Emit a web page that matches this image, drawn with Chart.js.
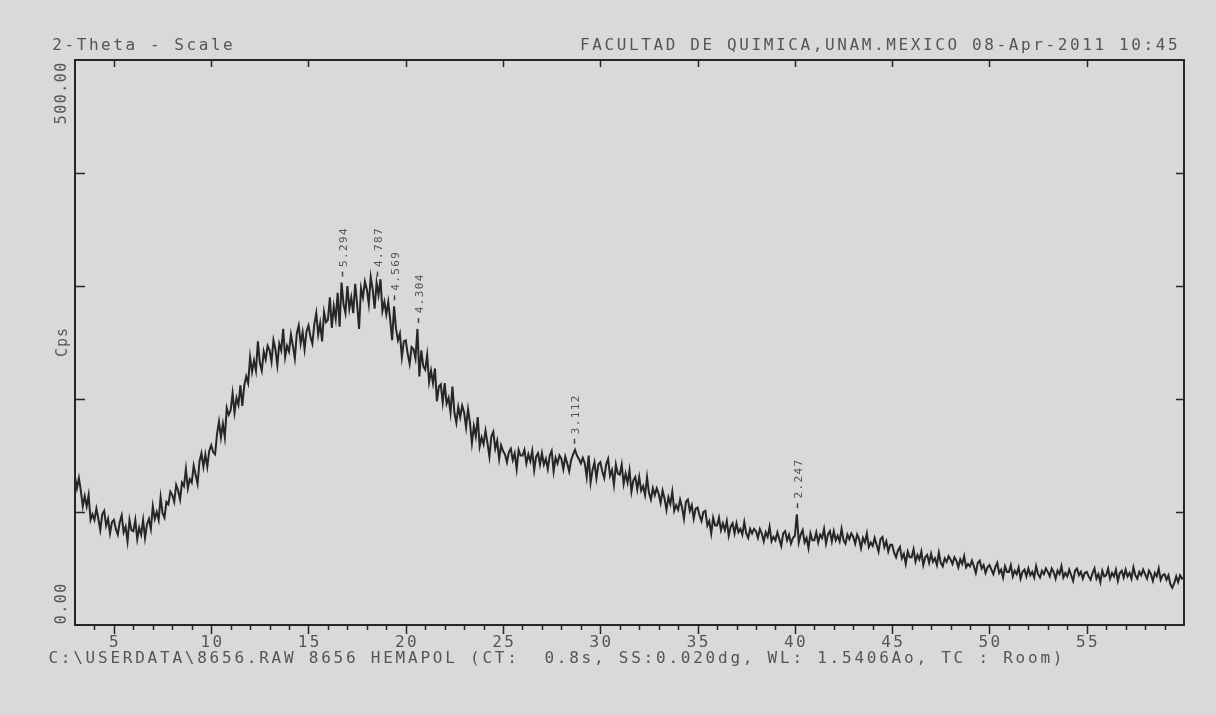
<!DOCTYPE html>
<html>
<head>
<meta charset="utf-8">
<title>2-Theta - Scale</title>
<script src="https://cdn.jsdelivr.net/npm/chart.js@4.4.1/dist/chart.umd.min.js"></script>
<style>
  html, body { margin: 0; padding: 0; background: #d9d9d9; }
  #wrap { width: 1216px; height: 715px; }
</style>
</head>
<body>
<div id="wrap"><canvas id="xrd" width="1216" height="715"></canvas></div>
<script>
/* XRD pattern, 2-Theta scan, redrawn with Chart.js */

// --- data
const twoThetaStart = 3.0;   // first step, degrees
const twoThetaStep = 0.1;    // step width, degrees
const cps = [
  131,121,130,119,105,114,105,115,93,98,    // 3
  93,103,94,84,98,101,88,94,81,91,          // 4
  93,85,80,91,97,82,87,74,93,84,            // 5
  83,93,76,86,80,93,77,89,94,85,            // 6
  105,94,100,93,113,99,95,109,107,118,      // 7
  115,109,124,119,111,126,123,138,121,129,  // 8
  126,141,133,125,145,152,140,151,140,154,  // 9
  159,153,151,169,180,166,178,166,192,186,  // 10
  190,205,188,201,195,212,194,212,220,214,  // 11
  237,224,234,225,251,232,225,242,235,247,  // 12
  243,233,252,244,230,249,243,262,237,247,  // 13
  242,257,247,236,258,265,249,259,244,260,  // 14
  265,255,249,266,276,257,267,251,277,268,  // 15
  270,290,263,282,271,294,264,303,284,276,  // 16
  300,280,290,276,302,284,262,298,290,304,  // 17
  297,284,308,297,280,303,292,306,278,286,  // 18
  275,286,270,252,282,262,252,258,237,251,  // 19
  252,240,231,246,244,236,262,220,243,229,  // 20
  226,239,215,225,214,227,198,211,213,197,  // 21
  214,196,201,188,211,188,179,193,184,194,  // 22
  188,175,191,179,161,176,167,184,158,166,  // 23
  160,172,161,149,167,171,156,163,147,159,  // 24
  154,151,144,153,156,146,152,138,155,150,  // 25
  150,155,143,151,145,154,137,149,152,142,  // 26
  152,142,147,138,150,154,136,148,143,150,  // 27
  147,138,149,143,136,146,151,155,150,147,  // 28
  143,148,143,131,150,126,137,144,130,142,  // 29
  144,136,130,142,147,132,137,124,142,134,  // 30
  133,142,125,134,126,137,118,128,131,120,  // 31
  131,119,123,115,131,117,111,121,115,121,  // 32
  116,108,119,112,102,113,107,118,101,106,  // 33
  102,111,104,94,109,111,101,106,94,103,    // 34
  104,97,92,100,101,88,92,81,95,88,         // 35
  88,95,84,90,84,92,79,87,90,81,            // 36
  90,82,85,80,91,81,77,85,81,85,            // 37
  83,77,85,81,74,82,78,87,74,78,            // 38
  75,82,76,70,81,83,75,80,72,77,            // 39
  79,98,73,80,84,73,77,68,81,75,            // 40
  75,82,73,80,77,85,72,80,83,74,            // 41
  83,75,79,74,85,75,72,80,76,81,            // 42
  78,72,80,76,68,77,73,81,69,73,            // 43
  70,77,71,65,76,78,69,74,65,71,            // 44
  71,64,60,66,69,59,63,54,65,60,            // 45
  60,67,56,62,58,65,53,60,62,55,            // 46
  63,56,59,53,64,55,52,59,56,61,            // 47
  58,54,60,57,51,58,54,61,51,54,            // 48
  52,57,52,46,55,57,50,53,46,51,            // 49
  53,49,45,51,55,46,49,42,52,47,            // 50
  47,53,43,48,45,51,41,47,49,43,            // 51
  50,44,47,42,52,45,42,48,45,50,            // 52
  47,43,50,47,41,48,45,52,42,46,            // 53
  43,49,44,39,48,50,44,47,41,46,            // 54
  47,43,40,46,50,41,45,38,48,43,            // 55
  44,50,41,46,43,49,39,46,48,42,            // 56
  49,43,46,41,51,44,41,47,44,49,            // 57
  45,41,48,45,39,46,43,50,40,44,            // 58
  45,40,44,36,33,37,43,38,44,41,            // 59
  42                                        // 60
];

// peak markers: position (2-Theta) and d-spacing label
const peakTwoTheta = [16.73, 18.52, 19.41, 20.62, 28.66, 40.10];
const peakD = ['5.294', '4.787', '4.569', '4.304', '3.112', '2.247'];

// axis ticks
const xTickLabels = [5, 10, 15, 20, 25, 30, 35, 40, 45, 50, 55];
const yTickValues = [100, 200, 300, 400];
const yEndLabels = ['0.00', '500.00'];

// texts
const titleLeft = '2-Theta - Scale';
const titleRight = 'FACULTAD DE QUIMICA,UNAM.MEXICO 08-Apr-2011 10:45';
const footer = 'C:\\USERDATA\\8656.RAW 8656 HEMAPOL (CT:  0.8s, SS:0.020dg, WL: 1.5406Ao, TC : Room)';
const yTitle = 'Cps';

const INK = '#262626';
const TEXT = '#555555';
const MONO = '"DejaVu Sans Mono", "Liberation Mono", monospace';

// draw text char by char at a fixed pitch (the plotter font is very wide)
function spaced(ctx, text, x, y, pitch, align) {
  const w = pitch * text.length;
  const x0 = align === 'right' ? x - w : align === 'center' ? x - w / 2 : x;
  ctx.textAlign = 'center';
  for (let i = 0; i < text.length; i++) ctx.fillText(text[i], x0 + pitch * (i + 0.5), y);
}
// same thing turned 90 deg, reading bottom to top
function spacedUp(ctx, text, x, y, pitch, align) {
  ctx.save();
  ctx.translate(x, y);
  ctx.rotate(-Math.PI / 2);
  spaced(ctx, text, 0, 0, pitch, align);
  ctx.restore();
}

const xrdFrame = {
  id: 'xrdFrame',
  afterDatasetsDraw(chart) {
    const { ctx, chartArea: a, scales: { x, y } } = chart;
    ctx.save();

    // frame
    ctx.strokeStyle = INK;
    ctx.lineWidth = 2;
    ctx.strokeRect(a.left, a.top, a.right - a.left, a.bottom - a.top);

    // ticks
    ctx.lineWidth = 1.5;
    ctx.beginPath();
    for (let v = 4; v < 60; v++) {
      const px = Math.round(x.getPixelForValue(v)) + 0.5;
      const major = xTickLabels.includes(v);
      ctx.moveTo(px, a.bottom); ctx.lineTo(px, a.bottom + (major ? 9 : 5));
      if (major) { ctx.moveTo(px, a.top); ctx.lineTo(px, a.top + 7); }
    }
    yTickValues.forEach(v => {
      const py = Math.round(y.getPixelForValue(v)) + 0.5;
      ctx.moveTo(a.left, py); ctx.lineTo(a.left + 10, py);
      ctx.moveTo(a.right, py); ctx.lineTo(a.right - 8, py);
    });
    ctx.stroke();

    // tick labels + titles
    ctx.fillStyle = TEXT;
    ctx.textBaseline = 'middle';
    ctx.font = '16px ' + MONO;
    xTickLabels.forEach(v => spaced(ctx, String(v), x.getPixelForValue(v), a.bottom + 18, 12, 'center'));
    spaced(ctx, titleLeft, 51, 46, 12.2, 'left');
    spaced(ctx, titleRight, 1179, 46, 12.25, 'right');
    spaced(ctx, footer, 47, 659, 12.4, 'left');

    ctx.font = '15px ' + MONO;
    spacedUp(ctx, yEndLabels[0], 62, a.bottom, 10.5, 'left');
    spacedUp(ctx, yEndLabels[1], 62, a.top + 2, 10.5, 'right');
    spacedUp(ctx, yTitle, 63, (a.top + a.bottom) / 2, 10, 'center');

    // peak markers: dash above the local top, d value above it
    ctx.font = '11px ' + MONO;
    ctx.strokeStyle = '#444';
    ctx.lineWidth = 1.5;
    peakTwoTheta.forEach((t, k) => {
      let top = 0;
      cps.forEach((c, i) => {
        const tt = twoThetaStart + i * twoThetaStep;
        if (Math.abs(tt - t) <= 0.15 && c > top) top = c;
      });
      const px = Math.round(x.getPixelForValue(t)) + 0.5;
      const py = y.getPixelForValue(top);
      ctx.beginPath();
      ctx.moveTo(px, py - 11); ctx.lineTo(px, py - 6);
      ctx.stroke();
      spacedUp(ctx, peakD[k], px + 2, py - 15, 8, 'left');
    });

    ctx.restore();
  }
};

const points = cps.map((c, i) => ({ x: +(twoThetaStart + i * twoThetaStep).toFixed(2), y: c }));

new Chart(document.getElementById('xrd'), {
  type: 'line',
  data: {
    datasets: [{
      data: points,
      borderColor: INK,
      borderWidth: 2,
      pointRadius: 0,
      tension: 0,
      fill: false
    }]
  },
  options: {
    responsive: false,
    animation: false,
    devicePixelRatio: 1,
    layout: { padding: { left: 75, right: 32, top: 60, bottom: 90 } },
    scales: {
      x: { type: 'linear', min: 3, max: 60, display: false },
      y: { type: 'linear', min: 0, max: 500, display: false }
    },
    plugins: { legend: { display: false }, tooltip: { enabled: false } }
  },
  plugins: [xrdFrame]
});
</script>
</body>
</html>
